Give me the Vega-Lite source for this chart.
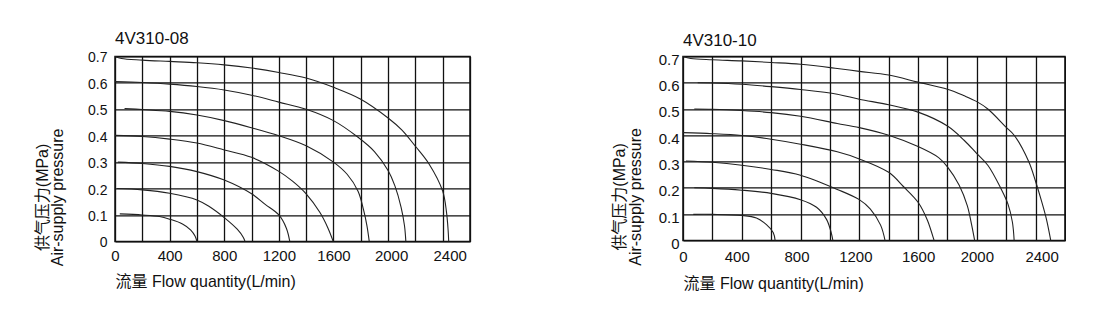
{
  "$schema": "https://vega.github.io/schema/vega-lite/v6.json",
  "background": "white",
  "padding": {"left": 33, "top": 29.4, "right": 0, "bottom": 0},
  "spacing": 140,
  "config": {
    "font": "Liberation Sans, Noto Sans CJK SC, sans-serif",
    "view": {"stroke": "#111", "strokeWidth": 1.5},
    "axis": {
      "domain": false, "ticks": false, "grid": true,
      "gridColor": "#111", "gridWidth": 1.3, "gridOpacity": 1,
      "labelColor": "#111", "titleColor": "#111",
      "labelFont": "Liberation Sans, Noto Sans CJK SC, sans-serif",
      "titleFont": "Liberation Sans, Noto Sans CJK SC, sans-serif",
      "titleFontWeight": "normal", "labelOverlap": false, "labelFlush": false
    },
    "title": {"font": "Liberation Sans, sans-serif", "fontSize": 17, "fontWeight": "normal", "anchor": "start", "frame": "group", "color": "#111"}
  },
  "datasets": {
    "a": [
      {"curve": "0.7", "flow": 0, "pressure": 0.7},
      {"curve": "0.7", "flow": 47, "pressure": 0.692},
      {"curve": "0.7", "flow": 200, "pressure": 0.686},
      {"curve": "0.7", "flow": 400, "pressure": 0.681},
      {"curve": "0.7", "flow": 600, "pressure": 0.676},
      {"curve": "0.7", "flow": 800, "pressure": 0.668},
      {"curve": "0.7", "flow": 1000, "pressure": 0.656},
      {"curve": "0.7", "flow": 1200, "pressure": 0.639},
      {"curve": "0.7", "flow": 1400, "pressure": 0.618},
      {"curve": "0.7", "flow": 1600, "pressure": 0.583},
      {"curve": "0.7", "flow": 1800, "pressure": 0.538},
      {"curve": "0.7", "flow": 2000, "pressure": 0.467},
      {"curve": "0.7", "flow": 2100, "pressure": 0.422},
      {"curve": "0.7", "flow": 2200, "pressure": 0.36},
      {"curve": "0.7", "flow": 2300, "pressure": 0.293},
      {"curve": "0.7", "flow": 2400, "pressure": 0.19},
      {"curve": "0.7", "flow": 2428, "pressure": 0.11},
      {"curve": "0.7", "flow": 2440, "pressure": 0.04},
      {"curve": "0.7", "flow": 2444, "pressure": 0},

      {"curve": "0.6", "flow": 0, "pressure": 0.605},
      {"curve": "0.6", "flow": 200, "pressure": 0.601},
      {"curve": "0.6", "flow": 400, "pressure": 0.595},
      {"curve": "0.6", "flow": 600, "pressure": 0.586},
      {"curve": "0.6", "flow": 800, "pressure": 0.573},
      {"curve": "0.6", "flow": 1000, "pressure": 0.553},
      {"curve": "0.6", "flow": 1200, "pressure": 0.527},
      {"curve": "0.6", "flow": 1400, "pressure": 0.5},
      {"curve": "0.6", "flow": 1600, "pressure": 0.457},
      {"curve": "0.6", "flow": 1780, "pressure": 0.394},
      {"curve": "0.6", "flow": 1900, "pressure": 0.34},
      {"curve": "0.6", "flow": 2000, "pressure": 0.268},
      {"curve": "0.6", "flow": 2050, "pressure": 0.21},
      {"curve": "0.6", "flow": 2095, "pressure": 0.13},
      {"curve": "0.6", "flow": 2120, "pressure": 0.06},
      {"curve": "0.6", "flow": 2130, "pressure": 0},

      {"curve": "0.5", "flow": 70, "pressure": 0.503},
      {"curve": "0.5", "flow": 200, "pressure": 0.499},
      {"curve": "0.5", "flow": 400, "pressure": 0.492},
      {"curve": "0.5", "flow": 600, "pressure": 0.478},
      {"curve": "0.5", "flow": 800, "pressure": 0.457},
      {"curve": "0.5", "flow": 1000, "pressure": 0.43},
      {"curve": "0.5", "flow": 1200, "pressure": 0.4},
      {"curve": "0.5", "flow": 1400, "pressure": 0.362},
      {"curve": "0.5", "flow": 1600, "pressure": 0.3},
      {"curve": "0.5", "flow": 1700, "pressure": 0.254},
      {"curve": "0.5", "flow": 1780, "pressure": 0.19},
      {"curve": "0.5", "flow": 1820, "pressure": 0.12},
      {"curve": "0.5", "flow": 1845, "pressure": 0.06},
      {"curve": "0.5", "flow": 1862, "pressure": 0},

      {"curve": "0.4", "flow": 0, "pressure": 0.401},
      {"curve": "0.4", "flow": 200, "pressure": 0.397},
      {"curve": "0.4", "flow": 400, "pressure": 0.387},
      {"curve": "0.4", "flow": 600, "pressure": 0.372},
      {"curve": "0.4", "flow": 800, "pressure": 0.346},
      {"curve": "0.4", "flow": 1000, "pressure": 0.318},
      {"curve": "0.4", "flow": 1200, "pressure": 0.265},
      {"curve": "0.4", "flow": 1300, "pressure": 0.228},
      {"curve": "0.4", "flow": 1400, "pressure": 0.18},
      {"curve": "0.4", "flow": 1500, "pressure": 0.11},
      {"curve": "0.4", "flow": 1560, "pressure": 0.05},
      {"curve": "0.4", "flow": 1598, "pressure": 0},

      {"curve": "0.3", "flow": 20, "pressure": 0.3},
      {"curve": "0.3", "flow": 200, "pressure": 0.295},
      {"curve": "0.3", "flow": 400, "pressure": 0.284},
      {"curve": "0.3", "flow": 600, "pressure": 0.264},
      {"curve": "0.3", "flow": 800, "pressure": 0.232},
      {"curve": "0.3", "flow": 1000, "pressure": 0.18},
      {"curve": "0.3", "flow": 1100, "pressure": 0.14},
      {"curve": "0.3", "flow": 1200, "pressure": 0.1},
      {"curve": "0.3", "flow": 1255, "pressure": 0.05},
      {"curve": "0.3", "flow": 1280, "pressure": 0},

      {"curve": "0.2", "flow": 15, "pressure": 0.2},
      {"curve": "0.2", "flow": 200, "pressure": 0.195},
      {"curve": "0.2", "flow": 400, "pressure": 0.182},
      {"curve": "0.2", "flow": 600, "pressure": 0.157},
      {"curve": "0.2", "flow": 690, "pressure": 0.132},
      {"curve": "0.2", "flow": 800, "pressure": 0.09},
      {"curve": "0.2", "flow": 895, "pressure": 0.046},
      {"curve": "0.2", "flow": 940, "pressure": 0.015},
      {"curve": "0.2", "flow": 952, "pressure": 0},

      {"curve": "0.1", "flow": 35, "pressure": 0.104},
      {"curve": "0.1", "flow": 200, "pressure": 0.1},
      {"curve": "0.1", "flow": 326, "pressure": 0.094},
      {"curve": "0.1", "flow": 400, "pressure": 0.084},
      {"curve": "0.1", "flow": 494, "pressure": 0.066},
      {"curve": "0.1", "flow": 555, "pressure": 0.043},
      {"curve": "0.1", "flow": 586, "pressure": 0.02},
      {"curve": "0.1", "flow": 600, "pressure": 0}
    ],
    "b": [
      {"curve": "0.7", "flow": 0, "pressure": 0.7},
      {"curve": "0.7", "flow": 53, "pressure": 0.692},
      {"curve": "0.7", "flow": 200, "pressure": 0.687},
      {"curve": "0.7", "flow": 400, "pressure": 0.683},
      {"curve": "0.7", "flow": 600, "pressure": 0.677},
      {"curve": "0.7", "flow": 800, "pressure": 0.67},
      {"curve": "0.7", "flow": 1050, "pressure": 0.654},
      {"curve": "0.7", "flow": 1200, "pressure": 0.643},
      {"curve": "0.7", "flow": 1400, "pressure": 0.629},
      {"curve": "0.7", "flow": 1600, "pressure": 0.602},
      {"curve": "0.7", "flow": 1800, "pressure": 0.575},
      {"curve": "0.7", "flow": 1915, "pressure": 0.55},
      {"curve": "0.7", "flow": 2000, "pressure": 0.528},
      {"curve": "0.7", "flow": 2075, "pressure": 0.5},
      {"curve": "0.7", "flow": 2200, "pressure": 0.43},
      {"curve": "0.7", "flow": 2254, "pressure": 0.4},
      {"curve": "0.7", "flow": 2353, "pressure": 0.3},
      {"curve": "0.7", "flow": 2400, "pressure": 0.224},
      {"curve": "0.7", "flow": 2440, "pressure": 0.15},
      {"curve": "0.7", "flow": 2474, "pressure": 0.08},
      {"curve": "0.7", "flow": 2503, "pressure": 0},

      {"curve": "0.6", "flow": 100, "pressure": 0.6},
      {"curve": "0.6", "flow": 200, "pressure": 0.599},
      {"curve": "0.6", "flow": 400, "pressure": 0.594},
      {"curve": "0.6", "flow": 600, "pressure": 0.585},
      {"curve": "0.6", "flow": 800, "pressure": 0.574},
      {"curve": "0.6", "flow": 1050, "pressure": 0.556},
      {"curve": "0.6", "flow": 1200, "pressure": 0.537},
      {"curve": "0.6", "flow": 1400, "pressure": 0.516},
      {"curve": "0.6", "flow": 1600, "pressure": 0.488},
      {"curve": "0.6", "flow": 1800, "pressure": 0.435},
      {"curve": "0.6", "flow": 1915, "pressure": 0.38},
      {"curve": "0.6", "flow": 2000, "pressure": 0.33},
      {"curve": "0.6", "flow": 2076, "pressure": 0.285},
      {"curve": "0.6", "flow": 2166, "pressure": 0.195},
      {"curve": "0.6", "flow": 2212, "pressure": 0.138},
      {"curve": "0.6", "flow": 2242, "pressure": 0.07},
      {"curve": "0.6", "flow": 2254, "pressure": 0},

      {"curve": "0.5", "flow": 77, "pressure": 0.5},
      {"curve": "0.5", "flow": 200, "pressure": 0.499},
      {"curve": "0.5", "flow": 400, "pressure": 0.494},
      {"curve": "0.5", "flow": 600, "pressure": 0.486},
      {"curve": "0.5", "flow": 800, "pressure": 0.472},
      {"curve": "0.5", "flow": 1050, "pressure": 0.445},
      {"curve": "0.5", "flow": 1200, "pressure": 0.429},
      {"curve": "0.5", "flow": 1400, "pressure": 0.4},
      {"curve": "0.5", "flow": 1600, "pressure": 0.357},
      {"curve": "0.5", "flow": 1740, "pressure": 0.315},
      {"curve": "0.5", "flow": 1800, "pressure": 0.28},
      {"curve": "0.5", "flow": 1880, "pressure": 0.21},
      {"curve": "0.5", "flow": 1935, "pressure": 0.132},
      {"curve": "0.5", "flow": 1965, "pressure": 0.058},
      {"curve": "0.5", "flow": 1985, "pressure": 0},

      {"curve": "0.4", "flow": 0, "pressure": 0.41},
      {"curve": "0.4", "flow": 200, "pressure": 0.406},
      {"curve": "0.4", "flow": 400, "pressure": 0.399},
      {"curve": "0.4", "flow": 600, "pressure": 0.385},
      {"curve": "0.4", "flow": 800, "pressure": 0.366},
      {"curve": "0.4", "flow": 1050, "pressure": 0.337},
      {"curve": "0.4", "flow": 1200, "pressure": 0.31},
      {"curve": "0.4", "flow": 1400, "pressure": 0.259},
      {"curve": "0.4", "flow": 1500, "pressure": 0.205},
      {"curve": "0.4", "flow": 1600, "pressure": 0.145},
      {"curve": "0.4", "flow": 1665, "pressure": 0.075},
      {"curve": "0.4", "flow": 1709, "pressure": 0},

      {"curve": "0.3", "flow": 20, "pressure": 0.302},
      {"curve": "0.3", "flow": 200, "pressure": 0.297},
      {"curve": "0.3", "flow": 400, "pressure": 0.286},
      {"curve": "0.3", "flow": 600, "pressure": 0.27},
      {"curve": "0.3", "flow": 800, "pressure": 0.248},
      {"curve": "0.3", "flow": 1050, "pressure": 0.194},
      {"curve": "0.3", "flow": 1200, "pressure": 0.155},
      {"curve": "0.3", "flow": 1274, "pressure": 0.12},
      {"curve": "0.3", "flow": 1345, "pressure": 0.058},
      {"curve": "0.3", "flow": 1375, "pressure": 0},

      {"curve": "0.2", "flow": 77, "pressure": 0.2},
      {"curve": "0.2", "flow": 200, "pressure": 0.198},
      {"curve": "0.2", "flow": 400, "pressure": 0.191},
      {"curve": "0.2", "flow": 600, "pressure": 0.179},
      {"curve": "0.2", "flow": 800, "pressure": 0.155},
      {"curve": "0.2", "flow": 909, "pressure": 0.126},
      {"curve": "0.2", "flow": 977, "pressure": 0.08},
      {"curve": "0.2", "flow": 1010, "pressure": 0.027},
      {"curve": "0.2", "flow": 1020, "pressure": 0},

      {"curve": "0.1", "flow": 70, "pressure": 0.099},
      {"curve": "0.1", "flow": 200, "pressure": 0.099},
      {"curve": "0.1", "flow": 400, "pressure": 0.095},
      {"curve": "0.1", "flow": 500, "pressure": 0.085},
      {"curve": "0.1", "flow": 568, "pressure": 0.06},
      {"curve": "0.1", "flow": 614, "pressure": 0.03},
      {"curve": "0.1", "flow": 627, "pressure": 0}
    ]
  },
  "hconcat": [
    {
      "width": 355,
      "height": 185,
      "title": {"text": "4V310-08", "offset": 2.5},
      "data": {"name": "a"},
      "mark": {"type": "line", "interpolate": "catmull-rom", "color": "#222", "strokeWidth": 1.1},
      "encoding": {
        "x": {
          "field": "flow", "type": "quantitative",
          "scale": {"domain": [0, 2600], "nice": false, "zero": false},
          "axis": {
            "values": [0, 200, 400, 600, 800, 1000, 1200, 1400, 1600, 1800, 2000, 2200, 2400, 2600],
            "format": "d",
            "labelExpr": "datum.value % 400 === 0 && datum.value < 2600 ? datum.label : ''",
            "labelFontSize": 15, "labelPadding": 19.5, "labelBaseline": "alphabetic",
            "labelOffset": {"condition": [{"test": "datum.value == 2400", "value": 7}, {"test": "datum.value == 2000", "value": 3}], "value": 0},
            "title": "流量 Flow quantity(L/min)", "titleFontSize": 16,
            "titleAnchor": "start", "titleAlign": "left", "titleX": 0, "titleY": 45.5, "titleBaseline": "alphabetic"
          }
        },
        "y": {
          "field": "pressure", "type": "quantitative",
          "scale": {"domain": [0, 0.7], "nice": false},
          "axis": {
            "values": [0, 0.1, 0.2, 0.3, 0.4, 0.5, 0.6, 0.7],
            "format": ".1~f",
            "labelFontSize": 14, "labelPadding": 8, "labelOffset": 1.5,
            "title": ["供气压力(MPa)", "Air-supply pressure"], "titleFontSize": 16, "titleLineHeight": 16,
            "titleAngle": -90, "titleAlign": "center", "titleBaseline": "top", "titleX": -81, "titleY": 140.5
          }
        },
        "detail": {"field": "curve", "type": "nominal"}
      }
    },
    {
      "width": 382,
      "height": 184,
      "title": {"text": "4V310-10", "offset": 2.5},
      "data": {"name": "b"},
      "mark": {"type": "line", "interpolate": "catmull-rom", "color": "#222", "strokeWidth": 1.1},
      "encoding": {
        "x": {
          "field": "flow", "type": "quantitative",
          "scale": {"domain": [0, 2600], "nice": false, "zero": false},
          "axis": {
            "values": [0, 200, 400, 600, 800, 1000, 1200, 1400, 1600, 1800, 2000, 2200, 2400, 2600],
            "format": "d",
            "labelExpr": "datum.value % 400 === 0 && datum.value < 2600 ? datum.label : ''",
            "labelFontSize": 15, "labelPadding": 21.5, "labelBaseline": "alphabetic",
            "labelOffset": {"condition": [{"test": "datum.value == 2400", "value": 6}, {"test": "datum.value == 400", "value": -5}, {"test": "datum.value == 800 || datum.value == 1200", "value": -4}], "value": 0},
            "title": "流量 Flow quantity(L/min)", "titleFontSize": 16,
            "titleAnchor": "start", "titleAlign": "left", "titleX": 0, "titleY": 48.3, "titleBaseline": "alphabetic"
          }
        },
        "y": {
          "field": "pressure", "type": "quantitative",
          "scale": {"domain": [0, 0.7], "nice": false},
          "axis": {
            "values": [0, 0.1, 0.2, 0.3, 0.4, 0.5, 0.6, 0.7],
            "format": ".1~f",
            "labelFontSize": 15, "labelPadding": 4, "labelOffset": 3,
            "title": ["供气压力(MPa)", "Air-supply pressure"], "titleFontSize": 16, "titleLineHeight": 16,
            "titleAngle": -90, "titleAlign": "center", "titleBaseline": "top", "titleX": -71, "titleY": 140
          }
        },
        "detail": {"field": "curve", "type": "nominal"}
      }
    }
  ]
}
